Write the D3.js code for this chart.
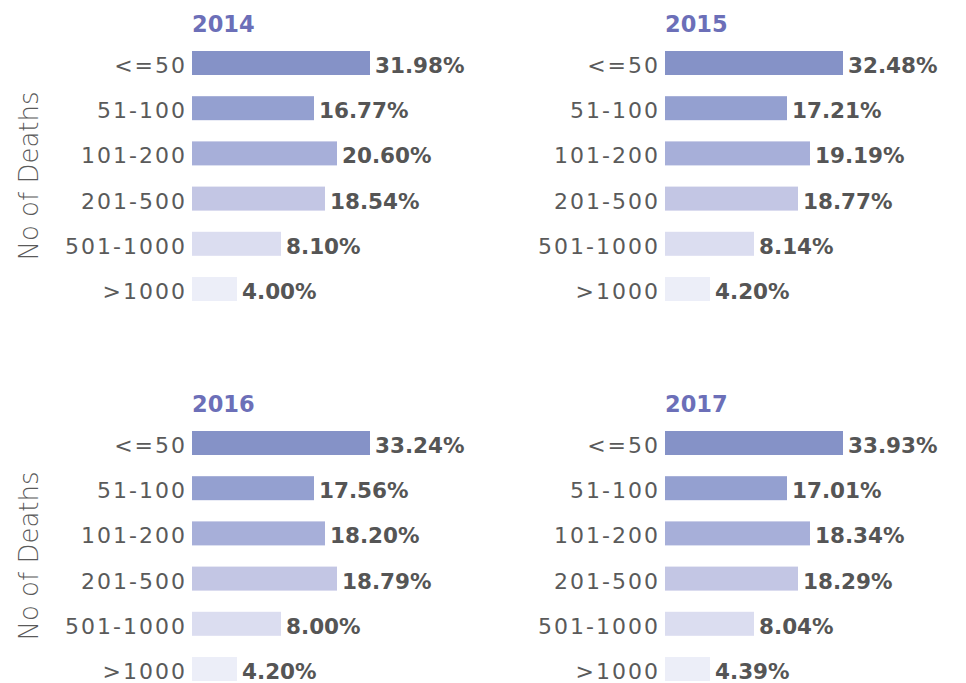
<!DOCTYPE html>
<html>
<head>
<meta charset="utf-8">
<script src="https://cdn.jsdelivr.net/npm/d3@7"></script>
<style>
  html, body { margin: 0; padding: 0; background: #fff; }
  svg { display: block; }
  text { font-family: "DejaVu Sans", sans-serif; }
</style>
</head>
<body>
<div id="chart"></div>
<script>
// ---- data ----
const categories = ["<=50", "51-100", "101-200", "201-500", "501-1000", ">1000"];
const years = ["2014", "2015", "2016", "2017"];
const values2014 = [31.98, 16.77, 20.60, 18.54, 8.10, 4.00];
const values2015 = [32.48, 17.21, 19.19, 18.77, 8.14, 4.20];
const values2016 = [33.24, 17.56, 18.20, 18.79, 8.00, 4.20];
const values2017 = [33.93, 17.01, 18.34, 18.29, 8.04, 4.39];
const axisTitle = "No of Deaths";

const seriesByYear = [values2014, values2015, values2016, values2017];

// ---- layout ----
const W = 966, H = 683;
const svg = d3.select("#chart").append("svg").attr("width", W).attr("height", H);

const barColors = d3.scaleOrdinal()
  .domain(categories)
  .range(["#8592c7", "#94a0d0", "#a7afd9", "#c3c6e4", "#dbddf0", "#eceef8"]);

// bar length follows each value's rank within its panel
const rankLength = d3.scaleLinear()
  .domain([1, 2, 3, 4, 5, 6])
  .range([178, 145, 133, 122, 89, 45]);

const panels = [
  { x0: 192, y0: 0, yAxisTitle: true },
  { x0: 665, y0: 0, yAxisTitle: false },
  { x0: 192, y0: 380, yAxisTitle: true },
  { x0: 665, y0: 380, yAxisTitle: false }
];

years.forEach((yr, i) => {
  const p = panels[i];
  const vals = seriesByYear[i];
  const sorted = vals.slice().sort((a, b) => b - a);
  const data = categories.map((c, j) => ({ cat: c, v: vals[j], rank: sorted.indexOf(vals[j]) + 1 }));

  const g = svg.append("g").attr("transform", `translate(${p.x0},${p.y0})`);

  const y = d3.scaleBand()
    .domain(categories)
    .range([51, 301])
    .paddingInner(0.469)
    .paddingOuter(0)
    .align(0);

  // title
  g.append("text")
    .attr("x", 0)
    .attr("y", 32)
    .attr("fill", "#6c6fb8")
    .attr("font-weight", "bold")
    .attr("font-size", "22.5px")
    .text(yr);

  // bars
  g.selectAll("rect.bar").data(data).join("rect")
    .attr("class", "bar")
    .attr("x", 0)
    .attr("y", d => y(d.cat))
    .attr("width", d => rankLength(d.rank))
    .attr("height", y.bandwidth())
    .attr("fill", d => barColors(d.cat));

  // category labels
  g.selectAll("text.cat").data(data).join("text")
    .attr("class", "cat")
    .attr("x", -5)
    .attr("y", d => y(d.cat) + y.bandwidth() / 2 + 10)
    .attr("text-anchor", "end")
    .attr("fill", "#5a5a5a")
    .attr("font-size", "22px")
    .attr("letter-spacing", "2px")
    .text(d => d.cat);

  // value labels
  g.selectAll("text.val").data(data).join("text")
    .attr("class", "val")
    .attr("x", d => rankLength(d.rank) + 5)
    .attr("y", d => y(d.cat) + y.bandwidth() / 2 + 10)
    .attr("fill", "#555555")
    .attr("font-weight", "bold")
    .attr("font-size", "21.5px")
    .text(d => d.v.toFixed(2) + "%");

  if (p.yAxisTitle) {
    const cy = (y(categories[0]) + y(categories[categories.length - 1]) + y.bandwidth()) / 2;
    g.append("text")
      .attr("transform", `translate(${38 - p.x0},${cy}) rotate(-90)`)
      .attr("text-anchor", "middle")
      .attr("fill", "#5a5a5a")
      .attr("font-weight", 300)
      .attr("font-size", "26px")
      .text(axisTitle);
  }
});
</script>
</body>
</html>
